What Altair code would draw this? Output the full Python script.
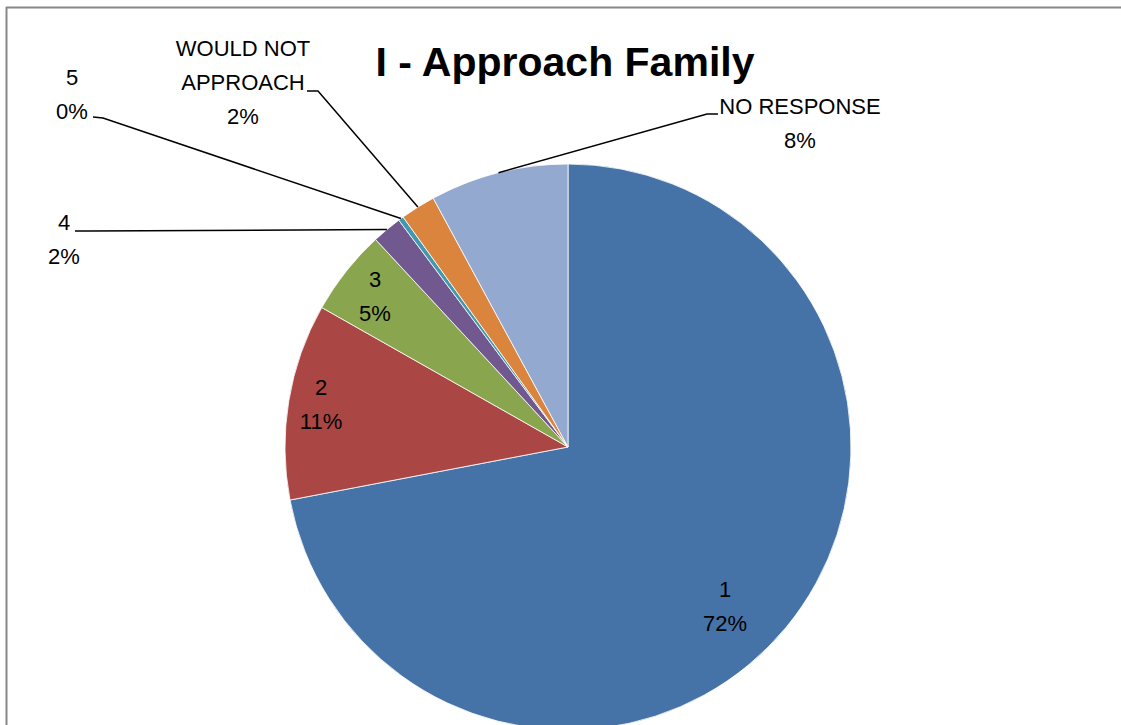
import math
import altair as alt
import pandas as pd

# ---------------- data ----------------
CATEGORIES = ["1", "2", "3", "4", "5", "WOULD NOT APPROACH", "NO RESPONSE"]
LABEL_TEXT = ["1", "2", "3", "4", "5", "WOULD NOT\nAPPROACH", "NO RESPONSE"]
SHARES = [72.0, 11.2, 4.9, 1.7, 0.3, 2.0, 7.9]
COLORS = ["#4572A7", "#AA4643", "#89A54E", "#71588F", "#4198AF", "#DB843D", "#93A9CF"]

# ---------------- layout (style) ----------------
W, H = 1121, 725
CX, CY, R = 568, 447, 283
LINE_H = 34
# label block centre offsets from pie centre
LABEL_OFFSETS = [(157, 160), (-247, -42), (-193, -150), (-504, -207),
                 (-496, -352), (-325, -364), (232, -323)]
# leader lines: (elbow offset, end offset) from pie centre, None = inside label
LEADERS = [None, None, None,
           ((-478, -216), (-493, -216)),
           ((-465, -329), (-475, -330)),
           ((-250, -356), (-261, -356)),
           ((139, -333), (150, -333))]
FONT = "Liberation Sans"

total = sum(SHARES)
pie_df = pd.DataFrame({"cat": CATEGORIES, "value": SHARES, "idx": range(len(CATEGORIES))})

# mid angles (clockwise from 12 o'clock) derived from data
mids = []
acc = 0.0
for v in SHARES:
    mids.append((acc + v / 2) / total * 2 * math.pi)
    acc += v

lab_rows = []
line_rows = []
for i, (txt, v) in enumerate(zip(LABEL_TEXT, SHARES)):
    pct = f"{round(v / total * 100)}%"
    full = txt + "\n" + pct
    n = full.count("\n") + 1
    dx, dy = LABEL_OFFSETS[i]
    lab_rows.append({"cat": CATEGORIES[i], "text": full, "x": CX + dx,
                     "y": CY + dy - (n - 1) * LINE_H / 2})
    if LEADERS[i] is not None:
        ex = CX + R * math.sin(mids[i])
        ey = CY - R * math.cos(mids[i])
        (bx, by), (tx, ty) = LEADERS[i]
        for s, (px, py) in enumerate([(ex, ey), (CX + bx, CY + by), (CX + tx, CY + ty)]):
            line_rows.append({"cat": CATEGORIES[i], "seq": s, "x": px, "y": py})

lab_df = pd.DataFrame(lab_rows)
line_df = pd.DataFrame(line_rows)

xs = alt.Scale(domain=[0, W], range=[0, W], nice=False, zero=False)
ys = alt.Scale(domain=[0, H], range=[0, H], nice=False, zero=False)

pie = alt.Chart(pie_df).mark_arc(outerRadius=R, stroke="white", strokeWidth=0.8).encode(
    theta=alt.Theta("value:Q", stack=True),
    color=alt.Color("cat:N", scale=alt.Scale(domain=CATEGORIES, range=COLORS), legend=None),
    order=alt.Order("idx:Q"),
    x=alt.value(CX),
    y=alt.value(CY),
)

leaders = alt.Chart(line_df).mark_line(color="black", strokeWidth=1.5).encode(
    x=alt.X("x:Q", scale=xs, axis=None),
    y=alt.Y("y:Q", scale=ys, axis=None),
    detail="cat:N",
    order="seq:Q",
)

labels = alt.Chart(lab_df).mark_text(
    font=FONT, fontSize=22, lineBreak="\n", lineHeight=LINE_H, color="black",
    align="center", baseline="middle",
).encode(
    x=alt.X("x:Q", scale=xs, axis=None),
    y=alt.Y("y:Q", scale=ys, axis=None),
    text="text:N",
)

title = alt.Chart(pd.DataFrame({"t": ["I - Approach Family"]})).mark_text(
    font=FONT, fontSize=41, fontWeight="bold", color="black",
    align="center", baseline="alphabetic",
).encode(x=alt.value(565), y=alt.value(76), text="t:N")

frame_top = alt.Chart(pd.DataFrame({"a": [0]})).mark_rule(color="#888888", strokeWidth=2).encode(
    x=alt.value(6), x2=alt.value(W), y=alt.value(7.5))
frame_left = alt.Chart(pd.DataFrame({"a": [0]})).mark_rule(color="#888888", strokeWidth=2).encode(
    x=alt.value(6.5), y=alt.value(7), y2=alt.value(H))

chart = alt.layer(pie, leaders, labels, title, frame_top, frame_left).properties(
    width=W, height=H, padding=0, autosize=alt.AutoSizeParams(type="none"),
    background="white",
).configure_view(stroke=None)

chart.save("out.html", embed_options={"renderer": "svg", "actions": False})
